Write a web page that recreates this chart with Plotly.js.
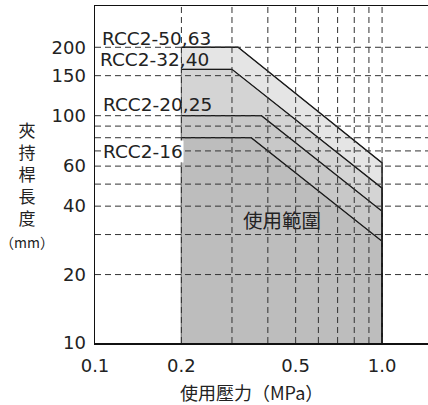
<!DOCTYPE html>
<html>
<head>
<meta charset="utf-8">
<script src="https://cdn.plot.ly/plotly-3.0.1.min.js"></script>
<style>html,body{margin:0;padding:0;background:#fff;}#chart{width:428px;height:405px;}</style>
</head>
<body>
<div id="chart"></div>
<script>
// Series (largest first so smaller ones draw on top)
var seriesNames = ["RCC2-50,63", "RCC2-32,40", "RCC2-20,25", "RCC2-16"];
var maxLength   = [200, 160, 100, 80];      // flat clamping length (mm)
var breakPress  = [0.315, 0.30, 0.38, 0.35]; // pressure where the limit starts to fall (MPa)
var endLength   = [62, 48, 38, 28];          // length at 1.0 MPa (mm)
var minPress = 0.2, maxPress = 1.0, minLength = 10;
var fillColors = ["#e5e5e5", "#d4d4d4", "#c8c8c8", "#bdbdbd"];

var xTickVals = [0.1, 0.2, 0.5, 1.0];
var xTickText = ["0.1", "0.2", "0.5", "1.0"];
var yTickVals = [10, 20, 40, 60, 100, 150, 200];
var yTickText = ["10", "20", "40", "60", "100", "150", "200"];
var xGrid = [0.2, 0.3, 0.4, 0.5, 0.6, 0.7, 0.8, 0.9, 1.0];
var yGrid = [20, 30, 40, 50, 60, 70, 80, 90, 100, 150, 200];

var traces = [];
for (var i = 0; i < seriesNames.length; i++) {
  traces.push({
    type: "scatter", mode: "lines", name: seriesNames[i], showlegend: false, hoverinfo: "skip",
    x: [minPress, minPress, breakPress[i], maxPress, maxPress],
    y: [minLength, maxLength[i], maxLength[i], endLength[i], minLength],
    fill: "toself", fillcolor: fillColors[i],
    line: {color: "#7a7a7a", width: 1}
  });
}
for (var i = 0; i < seriesNames.length; i++) {
  traces.push({
    type: "scatter", mode: "lines", showlegend: false, hoverinfo: "skip",
    x: [minPress, breakPress[i], maxPress, maxPress],
    y: [maxLength[i], maxLength[i], endLength[i], minLength],
    line: {color: "#1a1a1a", width: 1.3}
  });
}

var gridStyle = {color: "#333", width: 1, dash: "6px,4px"};
var shapes = [];
yGrid.forEach(function (v) {
  shapes.push({type: "line", xref: "paper", x0: 0, x1: 1, yref: "y", y0: v, y1: v, layer: "above", line: gridStyle});
});
xGrid.forEach(function (v) {
  shapes.push({type: "line", yref: "paper", y0: 0, y1: 1, xref: "x", x0: v, x1: v, layer: "above", line: gridStyle});
});

var tickFont = {family: "DejaVu Sans, sans-serif", size: 18, color: "#222"};
var labFont = {family: "DejaVu Sans, sans-serif", size: 18.5, color: "#222"};
var cjk = "Noto Sans CJK TC, Noto Sans CJK JP, sans-serif";
var labelPos = [[0.018, 0.905], [0.012, 0.840], [0.021, 0.709], [0.021, 0.568]];
var annotations = [];
for (var i = 0; i < seriesNames.length; i++) {
  annotations.push({
    text: seriesNames[i], xref: "paper", yref: "paper", x: labelPos[i][0], y: labelPos[i][1],
    xanchor: "left", yanchor: "middle", showarrow: false, font: labFont, borderpad: 0,
    bgcolor: i === 3 ? "#ffffff" : "rgba(0,0,0,0)"
  });
}
annotations.push({text: "使用範圍", xref: "paper", yref: "paper", x: 0.562, y: 0.365,
  xanchor: "center", yanchor: "middle",
  showarrow: false, font: {family: cjk, size: 19.5, color: "#222"}});
annotations.push({text: "使用壓力（MPa）", xref: "paper", yref: "paper", x: 0.471, y: -0.145,
  xanchor: "center", yanchor: "middle",
  showarrow: false, font: {family: cjk, size: 18, color: "#222"}});
annotations.push({text: "夾<br>持<br>桿<br>長<br>度<br><span style='font-size:14px'>（mm）</span>",
  xref: "paper", yref: "paper", x: -0.204, y: 0.469, xanchor: "center", yanchor: "middle",
  showarrow: false, font: {family: cjk, size: 17, color: "#222"}});

var layout = {
  width: 428, height: 405,
  margin: {l: 95, r: 0, t: 6, b: 62},
  paper_bgcolor: "#fff", plot_bgcolor: "#fff",
  showlegend: false,
  xaxis: {type: "log", range: [-1, 0.16], showgrid: false, zeroline: false,
    showline: true, linecolor: "#111", linewidth: 1.5, mirror: true,
    tickvals: xTickVals, ticktext: xTickText, ticks: "", tickfont: tickFont, ticklabelstandoff: 6},
  yaxis: {type: "log", range: [1, 2.4826], showgrid: false, zeroline: false,
    showline: true, linecolor: "#111", linewidth: 1.5, mirror: false,
    tickvals: yTickVals, ticktext: yTickText, ticks: "", tickfont: tickFont, ticklabelstandoff: 4},
  shapes: shapes,
  annotations: annotations
};
Plotly.newPlot("chart", traces, layout, {staticPlot: true, displayModeBar: false});
</script>
</body>
</html>
